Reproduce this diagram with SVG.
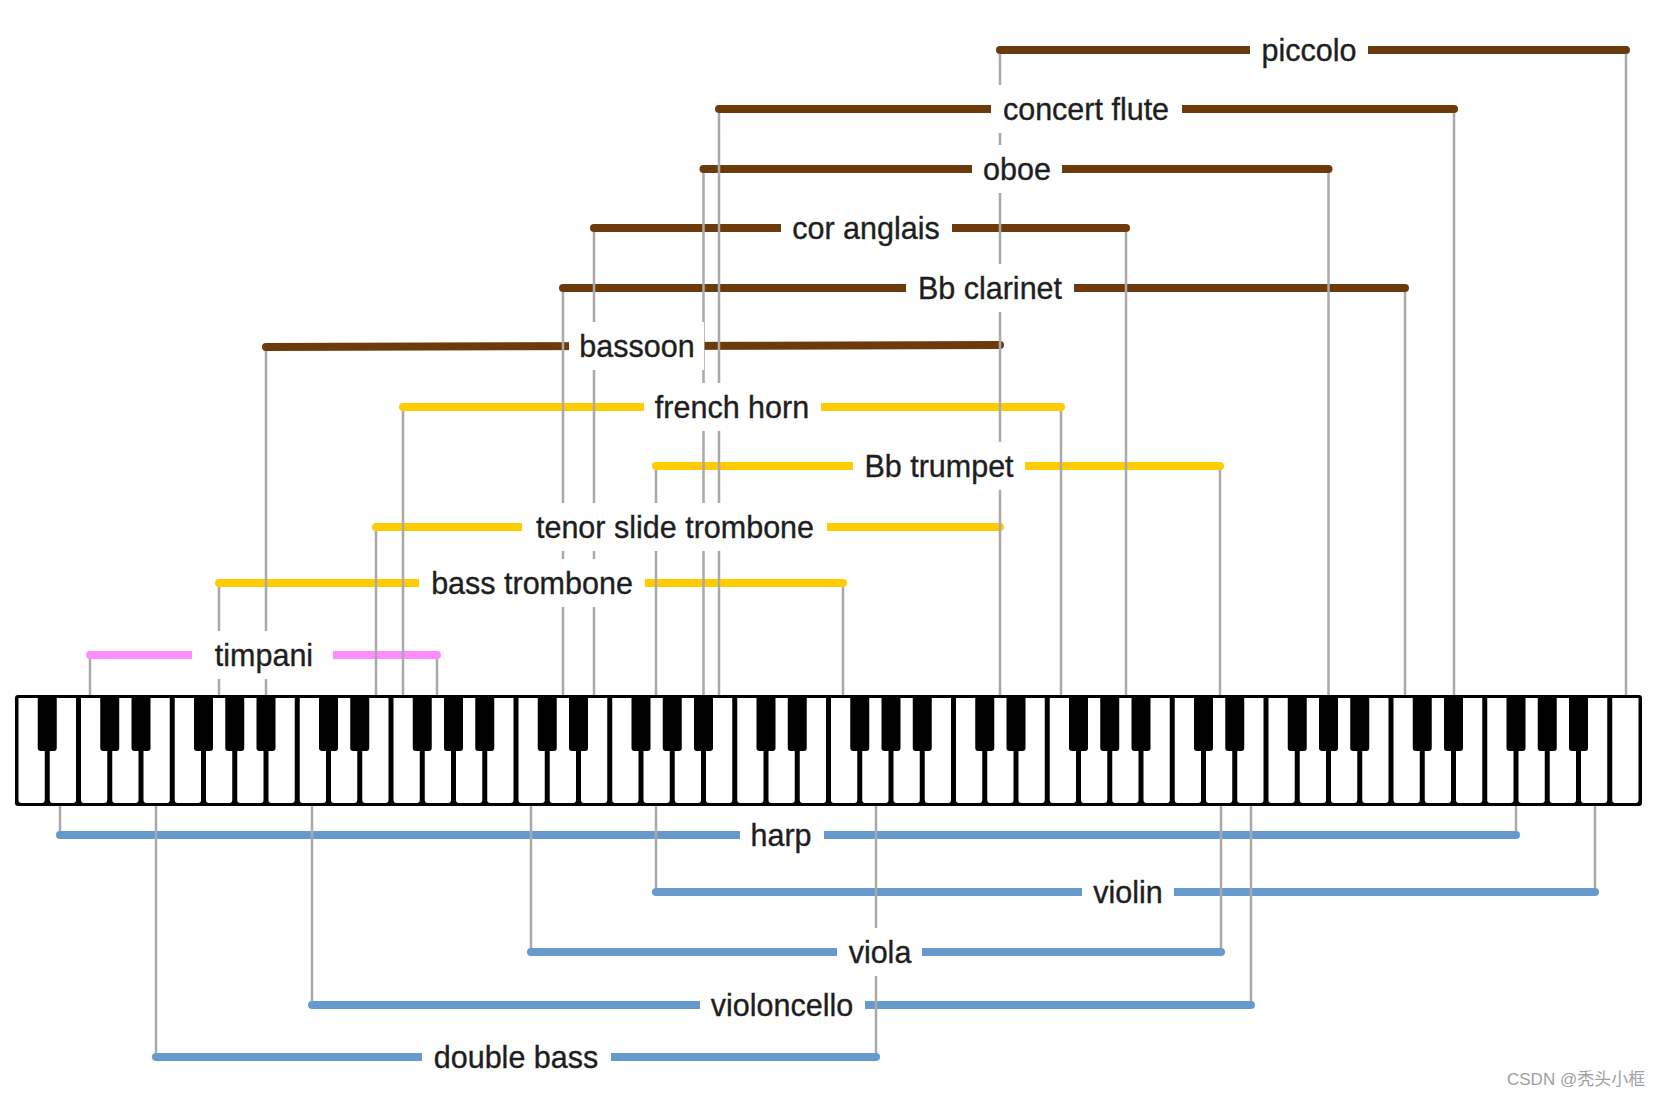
<svg xmlns="http://www.w3.org/2000/svg" xmlns:xlink="http://www.w3.org/1999/xlink" width="1658" height="1094" viewBox="0 0 1658 1094">
<defs>
<style>
.bar{stroke-width:8;stroke-linecap:round;fill:none}
.ww{stroke:#6c3b0c}
.br{stroke:#ffcc00}
.pc{stroke:#ff8cff}
.st{stroke:#6699cc}
.ln{stroke:#a9a9a9;stroke-width:2.5;fill:none}
.lb{fill:#ffffff}
.tx{font-family:"Liberation Sans",Arial,sans-serif;font-size:30.5px;fill:#1e1e1e;stroke:#1e1e1e;stroke-width:0.35;text-anchor:middle}
.wm{font-family:"Liberation Sans","Noto Sans CJK SC",sans-serif;font-size:17px;fill:#a0a0a0}
</style>
<path id="wk" d="M0,0 H26.25 V102 Q26.25,105 23.25,105 H3 Q0,105 0,102 Z" fill="#fff"/>
<path id="bk" d="M0,0 H19 V51 Q19,54 16,54 H3 Q0,54 0,51 Z" fill="#000"/>
</defs>
<rect width="1658" height="1094" fill="#fff"/>

<g id="keyboard">
<rect x="15" y="695" width="1627" height="111" rx="3" fill="#000"/>
<g id="white-keys" transform="translate(0.5,0)">
<use href="#wk" x="18" y="698"/><use href="#wk" x="49.25" y="698"/><use href="#wk" x="80.5" y="698"/><use href="#wk" x="111.75" y="698"/><use href="#wk" x="143" y="698"/><use href="#wk" x="174.25" y="698"/><use href="#wk" x="205.5" y="698"/><use href="#wk" x="236.75" y="698"/><use href="#wk" x="268" y="698"/><use href="#wk" x="299.25" y="698"/><use href="#wk" x="330.5" y="698"/><use href="#wk" x="361.75" y="698"/><use href="#wk" x="393" y="698"/><use href="#wk" x="424.25" y="698"/><use href="#wk" x="455.5" y="698"/><use href="#wk" x="486.75" y="698"/><use href="#wk" x="518" y="698"/><use href="#wk" x="549.25" y="698"/><use href="#wk" x="580.5" y="698"/><use href="#wk" x="611.75" y="698"/><use href="#wk" x="643" y="698"/><use href="#wk" x="674.25" y="698"/><use href="#wk" x="705.5" y="698"/><use href="#wk" x="736.75" y="698"/><use href="#wk" x="768" y="698"/><use href="#wk" x="799.25" y="698"/><use href="#wk" x="830.5" y="698"/><use href="#wk" x="861.75" y="698"/><use href="#wk" x="893" y="698"/><use href="#wk" x="924.25" y="698"/><use href="#wk" x="955.5" y="698"/><use href="#wk" x="986.75" y="698"/><use href="#wk" x="1018" y="698"/><use href="#wk" x="1049.25" y="698"/><use href="#wk" x="1080.5" y="698"/><use href="#wk" x="1111.75" y="698"/><use href="#wk" x="1143" y="698"/><use href="#wk" x="1174.25" y="698"/><use href="#wk" x="1205.5" y="698"/><use href="#wk" x="1236.75" y="698"/><use href="#wk" x="1268" y="698"/><use href="#wk" x="1299.25" y="698"/><use href="#wk" x="1330.5" y="698"/><use href="#wk" x="1361.75" y="698"/><use href="#wk" x="1393" y="698"/><use href="#wk" x="1424.25" y="698"/><use href="#wk" x="1455.5" y="698"/><use href="#wk" x="1486.75" y="698"/><use href="#wk" x="1518" y="698"/><use href="#wk" x="1549.25" y="698"/><use href="#wk" x="1580.5" y="698"/><use href="#wk" x="1611.75" y="698"/>
</g>
<g id="black-keys" transform="translate(-0.5,0)">
<use href="#bk" x="38.25" y="697"/><use href="#bk" x="100.75" y="697"/><use href="#bk" x="132" y="697"/><use href="#bk" x="194.5" y="697"/><use href="#bk" x="225.75" y="697"/><use href="#bk" x="257" y="697"/><use href="#bk" x="319.5" y="697"/><use href="#bk" x="350.75" y="697"/><use href="#bk" x="413.25" y="697"/><use href="#bk" x="444.5" y="697"/><use href="#bk" x="475.75" y="697"/><use href="#bk" x="538.25" y="697"/><use href="#bk" x="569.5" y="697"/><use href="#bk" x="632" y="697"/><use href="#bk" x="663.25" y="697"/><use href="#bk" x="694.5" y="697"/><use href="#bk" x="757" y="697"/><use href="#bk" x="788.25" y="697"/><use href="#bk" x="850.75" y="697"/><use href="#bk" x="882" y="697"/><use href="#bk" x="913.25" y="697"/><use href="#bk" x="975.75" y="697"/><use href="#bk" x="1007" y="697"/><use href="#bk" x="1069.5" y="697"/><use href="#bk" x="1100.75" y="697"/><use href="#bk" x="1132" y="697"/><use href="#bk" x="1194.5" y="697"/><use href="#bk" x="1225.75" y="697"/><use href="#bk" x="1288.25" y="697"/><use href="#bk" x="1319.5" y="697"/><use href="#bk" x="1350.75" y="697"/><use href="#bk" x="1413.25" y="697"/><use href="#bk" x="1444.5" y="697"/><use href="#bk" x="1507" y="697"/><use href="#bk" x="1538.25" y="697"/><use href="#bk" x="1569.5" y="697"/>
</g>
</g>

<g id="range-bars">
<line class="bar ww" x1="1000" y1="50" x2="1626" y2="50"/>
<line class="bar ww" x1="719" y1="109" x2="1454" y2="109"/>
<line class="bar ww" x1="703.5" y1="169" x2="1328.5" y2="169"/>
<line class="bar ww" x1="594" y1="228" x2="1126" y2="228"/>
<line class="bar ww" x1="563" y1="288" x2="1405" y2="288"/>
<line class="bar ww" x1="266" y1="347" x2="1000" y2="345"/>
<line class="bar br" x1="403" y1="407" x2="1061" y2="407"/>
<line class="bar br" x1="656" y1="466" x2="1220" y2="466"/>
<line class="bar br" x1="376" y1="527" x2="1000" y2="527"/>
<line class="bar br" x1="219" y1="583" x2="843" y2="583"/>
<line class="bar pc" x1="90" y1="655" x2="437" y2="655"/>
<line class="bar st" x1="60" y1="835" x2="1516" y2="835"/>
<line class="bar st" x1="656" y1="892" x2="1595" y2="892"/>
<line class="bar st" x1="531" y1="952" x2="1221" y2="952"/>
<line class="bar st" x1="312" y1="1005" x2="1251" y2="1005"/>
<line class="bar st" x1="156" y1="1057" x2="876" y2="1057"/>
</g>

<g id="connectors">
<line class="ln" x1="1000" y1="54" x2="1000" y2="695"/>
<line class="ln" x1="1626" y1="54" x2="1626" y2="695"/>
<line class="ln" x1="719" y1="113" x2="719" y2="695"/>
<line class="ln" x1="1454" y1="113" x2="1454" y2="695"/>
<line class="ln" x1="703.5" y1="173" x2="703.5" y2="695"/>
<line class="ln" x1="1328.5" y1="173" x2="1328.5" y2="695"/>
<line class="ln" x1="594" y1="232" x2="594" y2="695"/>
<line class="ln" x1="1126" y1="232" x2="1126" y2="695"/>
<line class="ln" x1="563" y1="292" x2="563" y2="695"/>
<line class="ln" x1="1405" y1="292" x2="1405" y2="695"/>
<line class="ln" x1="266" y1="351" x2="266" y2="695"/>
<line class="ln" x1="403" y1="411" x2="403" y2="695"/>
<line class="ln" x1="1061" y1="411" x2="1061" y2="695"/>
<line class="ln" x1="656" y1="470" x2="656" y2="695"/>
<line class="ln" x1="1220" y1="470" x2="1220" y2="695"/>
<line class="ln" x1="376" y1="531" x2="376" y2="695"/>
<line class="ln" x1="219" y1="587" x2="219" y2="695"/>
<line class="ln" x1="843" y1="587" x2="843" y2="695"/>
<line class="ln" x1="90" y1="659" x2="90" y2="695"/>
<line class="ln" x1="437" y1="659" x2="437" y2="695"/>
<line class="ln" x1="60" y1="806" x2="60" y2="831"/>
<line class="ln" x1="1516" y1="806" x2="1516" y2="831"/>
<line class="ln" x1="656" y1="806" x2="656" y2="888"/>
<line class="ln" x1="1595" y1="806" x2="1595" y2="888"/>
<line class="ln" x1="531" y1="806" x2="531" y2="948"/>
<line class="ln" x1="1221" y1="806" x2="1221" y2="948"/>
<line class="ln" x1="312" y1="806" x2="312" y2="1001"/>
<line class="ln" x1="1251" y1="806" x2="1251" y2="1001"/>
<line class="ln" x1="156" y1="806" x2="156" y2="1053"/>
<line class="ln" x1="876" y1="806" x2="876" y2="1053"/>
</g>

<g id="piccolo"><rect class="lb" x="1250" y="26" width="118" height="48"/><text class="tx" x="1309" y="60.5">piccolo</text></g>
<g id="concert-flute"><rect class="lb" x="991" y="85" width="191" height="48"/><text class="tx" x="1086" y="119.5">concert flute</text></g>
<g id="oboe"><rect class="lb" x="972" y="145" width="90" height="48"/><text class="tx" x="1017" y="179.5">oboe</text></g>
<g id="cor-anglais"><rect class="lb" x="781" y="204" width="171" height="48"/><text class="tx" x="866" y="238.5">cor anglais</text></g>
<g id="bb-clarinet"><rect class="lb" x="906" y="264" width="168" height="48"/><text class="tx" x="990" y="298.5">Bb clarinet</text></g>
<g id="bassoon"><rect class="lb" x="569" y="322" width="135" height="48"/><text class="tx" x="637" y="356.5">bassoon</text></g>
<g id="french-horn"><rect class="lb" x="644" y="383" width="177" height="48"/><text class="tx" x="732" y="417.5">french horn</text></g>
<g id="bb-trumpet"><rect class="lb" x="853" y="442" width="172" height="48"/><text class="tx" x="939" y="476.5">Bb trumpet</text></g>
<g id="tenor-slide-trombone"><rect class="lb" x="522" y="503" width="305" height="48"/><text class="tx" x="675" y="537.5">tenor slide trombone</text></g>
<g id="bass-trombone"><rect class="lb" x="419" y="559" width="226" height="48"/><text class="tx" x="532" y="593.5">bass trombone</text></g>
<g id="timpani"><rect class="lb" x="192" y="631" width="141" height="48"/><text class="tx" x="264" y="665.5">timpani</text></g>
<g id="harp"><rect class="lb" x="740" y="811" width="84" height="48"/><text class="tx" x="781" y="845.5">harp</text></g>
<g id="violin"><rect class="lb" x="1082" y="868" width="92" height="48"/><text class="tx" x="1128" y="902.5">violin</text></g>
<g id="viola"><rect class="lb" x="837" y="928" width="85" height="48"/><text class="tx" x="880" y="962.5">viola</text></g>
<g id="violoncello"><rect class="lb" x="700" y="981" width="165" height="48"/><text class="tx" x="782" y="1015.5">violoncello</text></g>
<g id="double-bass"><rect class="lb" x="422" y="1033" width="189" height="48"/><text class="tx" x="516" y="1067.5">double bass</text></g>

<text class="wm" x="1507" y="1085">CSDN @秃头小框</text>
</svg>
